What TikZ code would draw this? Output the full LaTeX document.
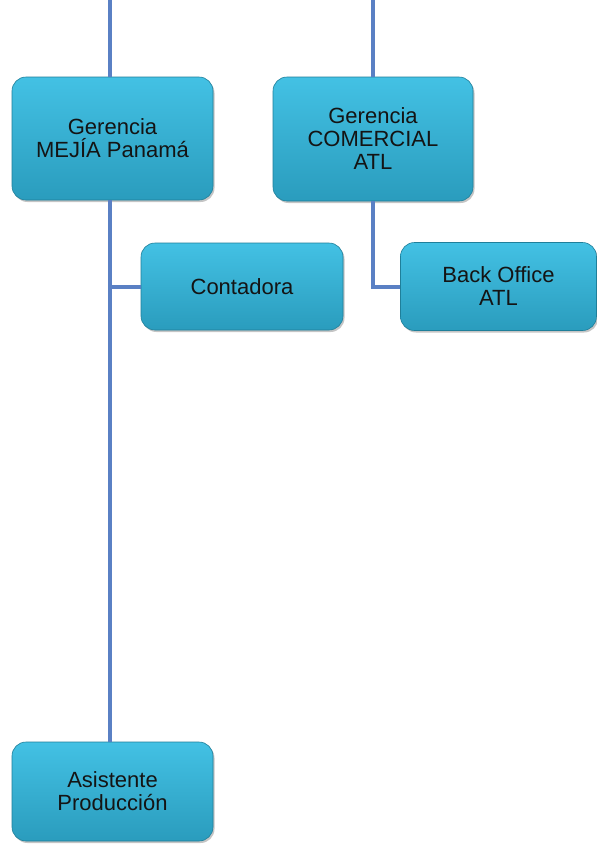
\documentclass[tikz,border=0pt]{standalone}
\usepackage{fontspec}
\setmainfont{Liberation Sans}
\usetikzlibrary{shadows}
\definecolor{boxtop}{HTML}{43C1E4}
\definecolor{boxbot}{HTML}{2A9CBD}
\definecolor{boxedge}{HTML}{1F7F9A}
\definecolor{linkcol}{HTML}{5A80C4}
\definecolor{txtcol}{HTML}{141414}
\tikzset{
  unit/.style={rounded corners=14pt, top color=boxtop, bottom color=boxbot,
    draw=boxedge, line width=0.6pt, align=center, text=txtcol,
    font=\fontsize{22}{23}\selectfont, inner sep=0pt,
    drop shadow={shadow xshift=1.5pt, shadow yshift=-2pt, opacity=0.45}},
  link/.style={draw=linkcol, line width=4pt}
}
\begin{document}
\begin{tikzpicture}[x=1pt,y=-1pt]
\useasboundingbox[fill=white] (0,0) rectangle (597,844);
% left branch
\node[unit, minimum width=201pt, minimum height=123pt] (mejia) at (112.5,138.5) {Gerencia\\MEJÍA Panamá};
\node[unit, minimum width=202pt, minimum height=87pt] (conta) at (242,286.5) {Contadora};
\node[unit, minimum width=201pt, minimum height=99pt] (asist) at (112.5,791.5) {Asistente\\Producción};
% right branch
\node[unit, minimum width=200pt, minimum height=124pt] (comer) at (373,139) {Gerencia\\COMERCIAL\\ATL};
\node[unit, minimum width=196pt, minimum height=88pt] (back) at (498.5,286.5) {Back Office\\ATL};
% connectors
\coordinate (topL) at (110,0);
\coordinate (topR) at (373,0);
\draw[link] (topL) -- (topL |- mejia.north);
\draw[link] (topR) -- (comer.north);
\draw[link] (mejia.south -| topL) -- (asist.north -| topL);
\draw[link] (conta.west) -- (conta.west -| topL);
\draw[link] (comer.south) |- (back.west);
\end{tikzpicture}
\end{document}
